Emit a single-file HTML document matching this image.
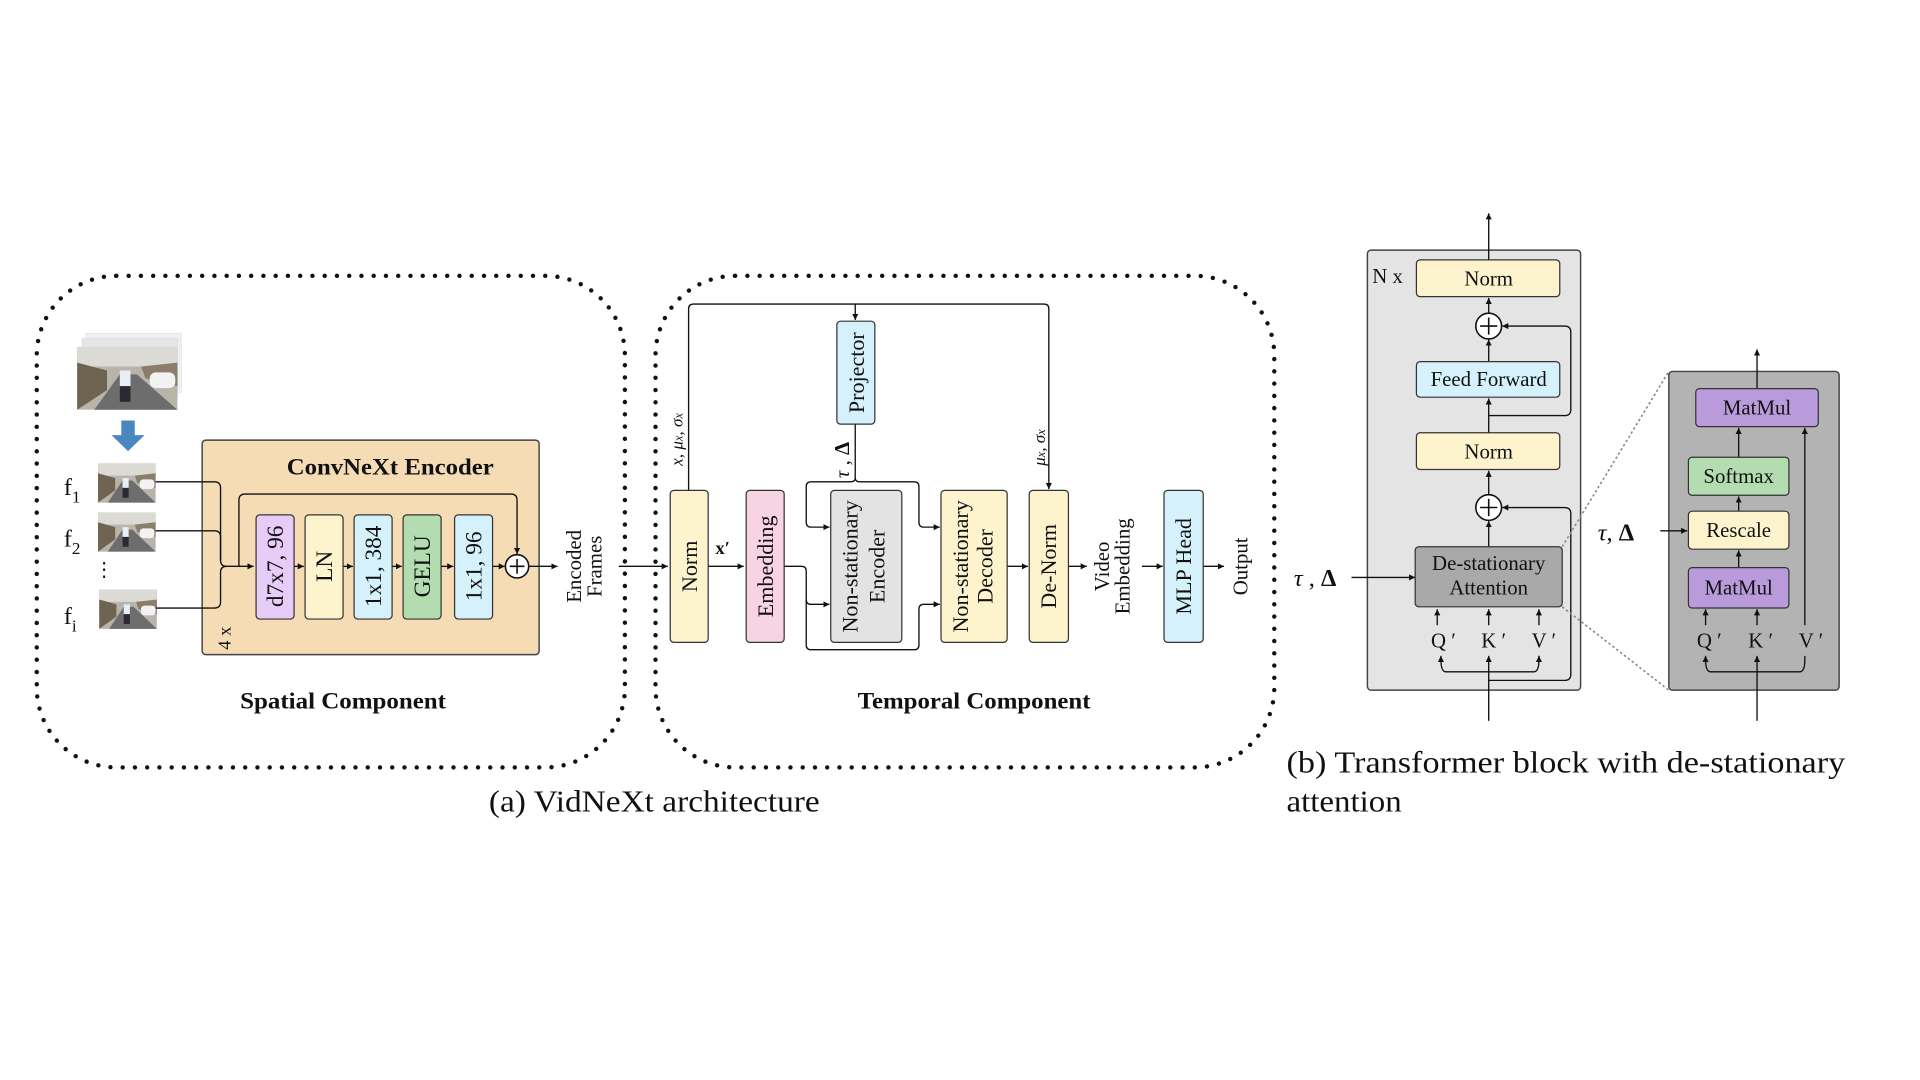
<!DOCTYPE html>
<html><head><meta charset="utf-8"><style>
html,body{margin:0;padding:0;background:#fff;}
svg{display:block;}
text{font-family:"Liberation Serif",serif;fill:#111;}
</style></head><body>
<svg width="1920" height="1080" viewBox="0 0 1567 881" preserveAspectRatio="none" xmlns="http://www.w3.org/2000/svg">
<defs>
<marker id="a" markerWidth="6" markerHeight="6" refX="5" refY="3" orient="auto" markerUnits="userSpaceOnUse"><path d="M0,0.5 L5,3 L0,5.5z" fill="#111"/></marker>
<g id="pic">
<rect x="0" y="0" width="47" height="32" fill="#b9b4aa"/>
<rect x="0" y="0" width="47" height="10" fill="#dcdad4"/>
<path d="M0,8 L14,12 L14,22 L0,32z" fill="#6f6452"/>
<path d="M30,10 L47,8 L47,20 L32,16z" fill="#8a7d6a"/>
<path d="M8,32 L20,14 L28,14 L47,32z" fill="#6d6d6d"/>
<rect x="34" y="13" width="12" height="8" rx="3" fill="#f2f2f2"/>
<rect x="20" y="12" width="5" height="8" fill="#e8eef5"/>
<rect x="20" y="20" width="5" height="8" fill="#2a2a33"/>
</g>
</defs>

<rect x="30" y="225" width="480" height="401" rx="65" fill="none" stroke="#111" stroke-width="3.6" stroke-linecap="round" stroke-dasharray="0 10"/>
<rect x="535" y="225" width="505" height="401" rx="65" fill="none" stroke="#111" stroke-width="3.6" stroke-linecap="round" stroke-dasharray="0 10"/>

<g>
<rect x="70" y="272" width="78" height="48" fill="#eef0f2" stroke="#ddd" stroke-width="0.5"/>
<rect x="67" y="276" width="78" height="48" fill="#e4e6e8" stroke="#ddd" stroke-width="0.5"/>
<use href="#pic" transform="translate(63,283) scale(1.74,1.6)"/>
</g>
<path d="M99,343 h11 v12 h8 l-13.5,13 l-13.5,-13 h8z" fill="#4a87c0"/>
<use href="#pic" x="80" y="378"/>
<use href="#pic" x="80" y="418"/>
<use href="#pic" x="81" y="481"/>
<text x="52" y="404" font-size="20">f<tspan font-size="14" dy="6">1</tspan></text>
<text x="52" y="446" font-size="20">f<tspan font-size="14" dy="6">2</tspan></text>
<text x="77" y="470" font-size="16">⋮</text>
<text x="52" y="509" font-size="20">f<tspan font-size="14" dy="6">i</tspan></text>

<rect x="165" y="359" width="275" height="175" rx="3" fill="#f5dcb4" stroke="#444" stroke-width="1.2"/>
<text x="234" y="387" font-size="19" font-weight="bold" textLength="169" lengthAdjust="spacingAndGlyphs">ConvNeXt Encoder</text>
<text transform="translate(188,530) rotate(-90)" font-size="15">4 x</text>
<g fill="none" stroke="#111" stroke-width="1.1">
<path d="M127,393 H175 Q180,393 180,398 V457 Q180,462 185,462 H207" marker-end="url(#a)"/>
<path d="M127,433 H175 Q180,433 180,438 V457"/>
<path d="M127,496 H175 Q180,496 180,491 V467 Q180,462 185,462"/>
<path d="M195,462 V408 Q195,403 200,403 H417 Q422,403 422,408 V452" marker-end="url(#a)"/>
<path d="M240,462 H248" marker-end="url(#a)"/>
<path d="M280,462 H288" marker-end="url(#a)"/>
<path d="M320,462 H328" marker-end="url(#a)"/>
<path d="M360,462 H370" marker-end="url(#a)"/>
<path d="M402,462 H412" marker-end="url(#a)"/>
<path d="M432,462 H455" marker-end="url(#a)"/>
</g>
<circle cx="422" cy="462" r="9.5" fill="#fff" stroke="#111" stroke-width="1.3"/>
<path d="M416,462 h12 M422,456 v12" stroke="#111" stroke-width="1.3"/>
<g stroke="#333" stroke-width="1">
<rect x="209" y="420" width="31" height="85" rx="3" fill="#e6ccf6"/>
<rect x="249" y="420" width="31" height="85" rx="3" fill="#fdf3cd"/>
<rect x="289" y="420" width="31" height="85" rx="3" fill="#d5f1fb"/>
<rect x="329" y="420" width="31" height="85" rx="3" fill="#b3dcb0"/>
<rect x="371" y="420" width="31" height="85" rx="3" fill="#d5f1fb"/>
</g>
<g font-size="19" text-anchor="middle">
<text transform="translate(231,462) rotate(-90)">d7x7, 96</text>
<text transform="translate(271,462) rotate(-90)">LN</text>
<text transform="translate(311,462) rotate(-90)">1x1, 384</text>
<text transform="translate(351,462) rotate(-90)">GELU</text>
<text transform="translate(393,462) rotate(-90)">1x1, 96</text>
</g>
<g font-size="17" text-anchor="middle">
<text transform="translate(474,462) rotate(-90)">Encoded</text>
<text transform="translate(491,462) rotate(-90)">Frames</text>
</g>
<text x="196" y="578" font-size="19" font-weight="bold" textLength="168" lengthAdjust="spacingAndGlyphs">Spatial Component</text>

<g fill="none" stroke="#111" stroke-width="1.1">
<path d="M505,462 H545" marker-end="url(#a)"/>
<path d="M562,400 V252 Q562,248 566,248 H852 Q856,248 856,252 V399" marker-end="url(#a)"/>
<path d="M698,248 V261" marker-end="url(#a)"/>
<path d="M578,462 H607" marker-end="url(#a)"/>
<path d="M698,346 V390 Q698,393 694,393 H662 Q658,393 658,397 V426 Q658,430 662,430 H677" marker-end="url(#a)"/>
<path d="M698,390 Q698,393 702,393 H746 Q750,393 750,397 V426 Q750,430 754,430 H767" marker-end="url(#a)"/>
<path d="M640,462 H654 Q658,462 658,466 V489 Q658,493 662,493 H677" marker-end="url(#a)"/>
<path d="M658,489 V526 Q658,530 662,530 H746 Q750,530 750,526 V497 Q750,493 754,493 H767" marker-end="url(#a)"/>
<path d="M822,462 H839" marker-end="url(#a)"/>
<path d="M872,462 H887" marker-end="url(#a)"/>
<path d="M932,462 H949" marker-end="url(#a)"/>
<path d="M982,462 H999" marker-end="url(#a)"/>
</g>
<g stroke="#333" stroke-width="1">
<rect x="547" y="400" width="31" height="124" rx="3" fill="#fdf3cd"/>
<rect x="609" y="400" width="31" height="124" rx="3" fill="#f7d3e3"/>
<rect x="683" y="262" width="31" height="84" rx="3" fill="#d5f1fb"/>
<rect x="678" y="400" width="58" height="124" rx="3" fill="#e3e3e3"/>
<rect x="768" y="400" width="54" height="124" rx="3" fill="#fdf3cd"/>
<rect x="840" y="400" width="32" height="124" rx="3" fill="#fdf3cd"/>
<rect x="950" y="400" width="32" height="124" rx="3" fill="#d5f1fb"/>
</g>
<g font-size="18" text-anchor="middle">
<text transform="translate(569,462) rotate(-90)">Norm</text>
<text transform="translate(631,462) rotate(-90)">Embedding</text>
<text transform="translate(705,304) rotate(-90)">Projector</text>
<text transform="translate(700,462) rotate(-90)">Non-stationary</text>
<text transform="translate(722,462) rotate(-90)">Encoder</text>
<text transform="translate(790,462) rotate(-90)">Non-stationary</text>
<text transform="translate(810,462) rotate(-90)">Decoder</text>
<text transform="translate(862,462) rotate(-90)">De-Norm</text>
<text transform="translate(972,462) rotate(-90)">MLP Head</text>
</g>
<g font-size="17" text-anchor="middle">
<text transform="translate(905,462) rotate(-90)">Video</text>
<text transform="translate(922,462) rotate(-90)">Embedding</text>
<text transform="translate(1018,462) rotate(-90)">Output</text>
</g>
<text transform="translate(557,380) rotate(-90)" font-size="14" font-style="italic">x, μ<tspan font-size="10">x</tspan>, σ<tspan font-size="10">x</tspan></text>
<text transform="translate(853,380) rotate(-90)" font-size="14" font-style="italic">μ<tspan font-size="10">x</tspan>, σ<tspan font-size="10">x</tspan></text>
<text transform="translate(693,390) rotate(-90)" font-size="17"><tspan font-style="italic">τ</tspan> , <tspan font-weight="bold">Δ</tspan></text>
<text x="584" y="452" font-size="15" font-weight="bold">x′</text>
<text x="700" y="578" font-size="19" font-weight="bold" textLength="190" lengthAdjust="spacingAndGlyphs">Temporal Component</text>
<text x="399" y="662" font-size="25" textLength="270" lengthAdjust="spacingAndGlyphs">(a) VidNeXt architecture</text>

<rect x="1116" y="204" width="174" height="359" rx="3" fill="#e4e4e4" stroke="#444" stroke-width="1.2"/>
<text x="1120" y="231" font-size="17">N x</text>
<g fill="none" stroke="#111" stroke-width="1.1">
<path d="M1215,212 V174" marker-end="url(#a)"/>
<path d="M1215,256 V243" marker-end="url(#a)"/>
<path d="M1215,295 V277" marker-end="url(#a)"/>
<path d="M1215,353 V325" marker-end="url(#a)"/>
<path d="M1215,404 V384" marker-end="url(#a)"/>
<path d="M1215,446 V425" marker-end="url(#a)"/>
<path d="M1215,339 H1277 Q1282,339 1282,334 V271 Q1282,266 1277,266 H1226" marker-end="url(#a)"/>
<path d="M1215,555 H1277 Q1282,555 1282,550 V419 Q1282,414 1277,414 H1226" marker-end="url(#a)"/>
<path d="M1215,588 V535" marker-end="url(#a)"/>
<path d="M1176,538 Q1176,548 1180,548 H1252 Q1256,548 1256,538 V535"/>
<path d="M1176,540 V535" marker-end="url(#a)"/>
<path d="M1256,540 V535" marker-end="url(#a)"/>
<path d="M1173,510 V497" marker-end="url(#a)"/>
<path d="M1215,510 V497" marker-end="url(#a)"/>
<path d="M1256,510 V497" marker-end="url(#a)"/>
<path d="M1103,471 H1155" marker-end="url(#a)"/>
</g>
<circle cx="1215" cy="266" r="10.5" fill="#fff" stroke="#111" stroke-width="1.3"/>
<path d="M1208,266 h14 M1215,259 v14" stroke="#111" stroke-width="1.3"/>
<circle cx="1215" cy="414" r="10.5" fill="#fff" stroke="#111" stroke-width="1.3"/>
<path d="M1208,414 h14 M1215,407 v14" stroke="#111" stroke-width="1.3"/>
<g stroke="#333" stroke-width="1">
<rect x="1156" y="212" width="117" height="30" rx="3" fill="#fdf3cd"/>
<rect x="1156" y="295" width="117" height="29" rx="3" fill="#d5f1fb"/>
<rect x="1156" y="353" width="117" height="30" rx="3" fill="#fdf3cd"/>
<rect x="1155" y="446" width="120" height="49" rx="3" fill="#a9a9a9"/>
</g>
<g font-size="17" text-anchor="middle">
<text x="1215" y="233">Norm</text>
<text x="1215" y="315">Feed Forward</text>
<text x="1215" y="374">Norm</text>
<text x="1215" y="465">De-stationary</text>
<text x="1215" y="485">Attention</text>
<text x="1178" y="528">Q ′</text>
<text x="1219" y="528">K ′</text>
<text x="1260" y="528">V ′</text>
</g>
<text x="1056" y="478" font-size="20"><tspan font-style="italic">τ</tspan> , <tspan font-weight="bold">Δ</tspan></text>

<path d="M1275,446 L1362,303 M1275,495 L1362,563" stroke="#888" stroke-width="1.3" stroke-dasharray="2 2" fill="none"/>

<rect x="1362" y="303" width="139" height="260" rx="3" fill="#b3b3b3" stroke="#444" stroke-width="1.2"/>
<g fill="none" stroke="#111" stroke-width="1.1">
<path d="M1434,317 V285" marker-end="url(#a)"/>
<path d="M1419,373 V349" marker-end="url(#a)"/>
<path d="M1419,417 V405" marker-end="url(#a)"/>
<path d="M1419,463 V449" marker-end="url(#a)"/>
<path d="M1473,510 V349" marker-end="url(#a)"/>
<path d="M1392,510 V497" marker-end="url(#a)"/>
<path d="M1434,510 V497" marker-end="url(#a)"/>
<path d="M1434,588 V535" marker-end="url(#a)"/>
<path d="M1392,538 Q1392,548 1396,548 H1469 Q1473,548 1473,538 V535"/>
<path d="M1392,540 V535" marker-end="url(#a)"/>
<path d="M1355,433 H1377" marker-end="url(#a)"/>
</g>
<g stroke="#333" stroke-width="1">
<rect x="1384" y="317" width="100" height="31" rx="3" fill="#b99bdb"/>
<rect x="1378" y="373" width="82" height="31" rx="3" fill="#b3dcb0"/>
<rect x="1378" y="417" width="82" height="31" rx="3" fill="#fdf3cd"/>
<rect x="1378" y="463" width="82" height="33" rx="3" fill="#b99bdb"/>
</g>
<g font-size="17" text-anchor="middle">
<text x="1434" y="338">MatMul</text>
<text x="1419" y="394">Softmax</text>
<text x="1419" y="438">Rescale</text>
<text x="1419" y="485">MatMul</text>
<text x="1395" y="528">Q ′</text>
<text x="1437" y="528">K ′</text>
<text x="1478" y="528">V ′</text>
</g>
<text x="1304" y="441" font-size="20"><tspan font-style="italic">τ</tspan>, <tspan font-weight="bold">Δ</tspan></text>

<text x="1050" y="630" font-size="25" textLength="456" lengthAdjust="spacingAndGlyphs">(b) Transformer block with de-stationary</text>
<text x="1050" y="662" font-size="25" textLength="94" lengthAdjust="spacingAndGlyphs">attention</text>
</svg>
</body></html>
